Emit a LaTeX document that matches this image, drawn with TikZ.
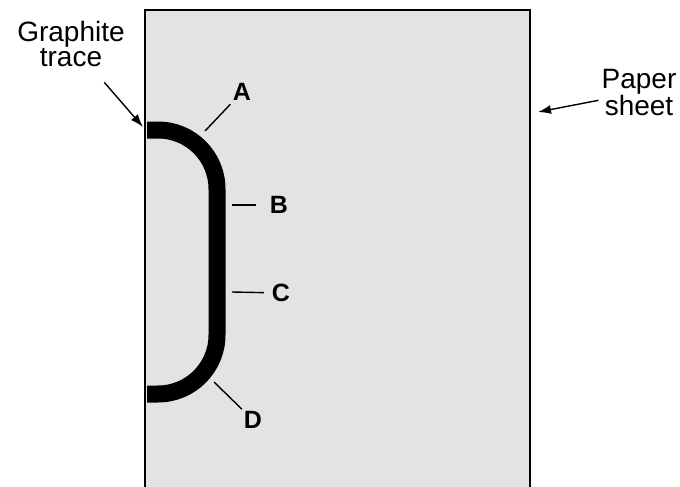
\documentclass[tikz,border=0pt]{standalone}
\usepackage{fontspec}
\setmainfont{Liberation Sans}
\usepackage{xcolor}
\usepackage{tikz}
\usetikzlibrary{arrows.meta, positioning}
\definecolor{sheetgray}{RGB}{227,227,227}

\begin{document}
\begin{tikzpicture}[
    x=1pt, y=-1pt,
    sheet/.style={fill=sheetgray, draw=black, line width=1.4pt},
    trace/.style={line width=17pt, black, rounded corners=59pt},
    lead/.style={line width=1.4pt, black},
    pointer/.style={-{Latex[length=13pt, width=9pt]}, line width=1.4pt, black},
    lbl/.style={font=\fontsize{25}{25}\selectfont\bfseries, inner sep=2pt},
    note/.style={font=\fontsize{28}{25.5}\selectfont, align=center, inner sep=3pt},
]
\useasboundingbox (0,0) rectangle (680,487);

% paper sheet and graphite trace
\filldraw[sheet] (145,487) -- (145,10) -- (530,10) -- (530,487);
\draw[trace] (147,130) -- (217,130) -- (217,394) -- (147,394);

% points on the trace
\coordinate (pA) at (205,131);
\coordinate (pB) at (232,205);
\coordinate (pC) at (232,292);
\coordinate (pD) at (214,382);

\node[lbl] (lA) at (242,92)  {A};
\node[lbl] (lB) at (279,205) {B};
\node[lbl] (lC) at (281,293) {C};
\node[lbl] (lD) at (253,420) {D};

\draw[lead, shorten >=2pt]  (pA) -- (lA);
\draw[lead, shorten >=12pt] (pB) -- (lB);
\draw[lead, shorten >=6pt]  (pC) -- (lC);
\draw[lead]                 (pD) -- (lD);

% callouts
\node[note] (gt) at (71,44)    {Graphite\\trace};
\node[note] (ps) at (639,92.5) {Paper\\sheet};
\coordinate (tipG) at (143,127);
\coordinate (tipP) at (538,112);

\draw[pointer, shorten <=16pt] (gt) -- (tipG);
\draw[pointer] (ps) -- (tipP);

\end{tikzpicture}
\end{document}
